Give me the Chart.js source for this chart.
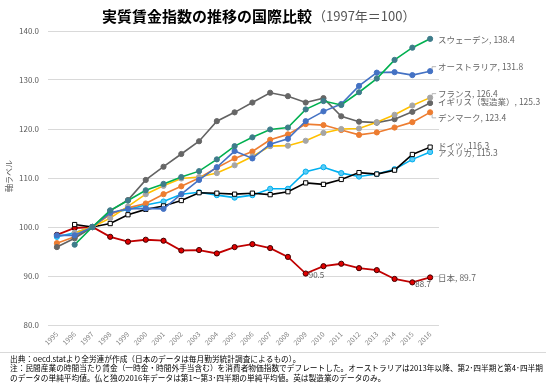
<!DOCTYPE html>
<html><head><meta charset="utf-8">
<script src="https://cdn.jsdelivr.net/npm/chart.js@4"></script>
<style>html,body{margin:0;padding:0;background:#fff;}#wrap{position:relative;width:546px;height:386px;}</style>
</head><body><div id="wrap"><canvas id="c" width="546" height="386"></canvas></div>
<script>
const years = ['1995','1996','1997','1998','1999','2000','2001','2002','2003','2004','2005','2006','2007','2008','2009','2010','2011','2012','2013','2014','2015','2016'];
const yTicks = [80, 90, 100, 110, 120, 130, 140];
const japan     = [98.4, 99.8, 100, 98.0, 97.0, 97.4, 97.2, 95.2, 95.3, 94.6, 95.9, 96.5, 95.7, 93.9, 90.5, 92.0, 92.5, 91.6, 91.2, 89.4, 88.7, 89.7];
const sweden    = [null, 96.4, 100, 103.4, 105.4, 107.5, 108.8, 110.2, 111.4, 113.8, 116.5, 118.3, 119.9, 120.3, 124.0, 125.7, 124.9, 127.5, 130.3, 134.1, 136.6, 138.4];
const australia = [98.3, 98.3, 100, 102.9, 103.7, 103.8, 103.7, 106.7, 109.6, 112.2, 115.5, 114.0, 116.9, 118.0, 121.6, 123.6, 125.1, 128.8, 131.5, 131.6, 131.0, 131.8];
const france    = [null, 98.8, 100, 101.8, 104.2, 106.7, 108.4, 109.9, 110.2, 111.0, 112.6, 114.4, 116.5, 116.6, 117.6, 119.2, 120.0, 120.1, 121.4, 122.9, 124.8, 126.4];
const uk        = [95.9, 97.7, 100, 103.3, 105.5, 109.6, 112.3, 114.9, 117.5, 121.6, 123.4, 125.4, 127.4, 126.7, 125.4, 126.3, 122.6, 121.5, 121.3, 122.0, 123.5, 125.3];
const denmark   = [96.7, 98.0, 100, 102.6, 103.9, 104.8, 106.7, 108.3, 110.0, 112.1, 114.0, 115.4, 117.8, 118.9, 121.0, 120.8, 119.8, 118.8, 119.3, 120.3, 121.4, 123.4];
const germany   = [null, 100.5, 100, 100.7, 102.5, 103.6, 104.3, 105.4, 107.0, 106.9, 106.7, 106.9, 106.6, 107.2, 109.0, 108.7, 109.7, 111.1, 110.8, 111.6, 114.8, 116.3];
const usa       = [98.0, 98.8, 100, 102.8, 103.6, 104.5, 105.2, 106.7, 107.1, 106.5, 106.0, 106.5, 107.8, 107.8, 111.3, 112.2, 111.0, 110.3, 110.8, 111.8, 113.8, 115.3];
const seriesNames = ['スウェーデン','オーストラリア','フランス','イギリス（製造業）','デンマーク','ドイツ','アメリカ','日本'];
const extraLabels = [{year:'2009', text:'90.5'}, {year:'2015', text:'88.7'}];
const titleMain = '実質賃金指数の推移の国際比較';
const titleSub = '（1997年＝100）';
const yAxisTitle = '軸ラベル';
const notes = [
  '出典：oecd.statより全労連が作成（日本のデータは毎月勤労統計調査によるもの）。',
  '注：民間産業の時間当たり賃金（一時金・時間外手当含む）を消費者物価指数でデフレートした。オーストラリアは2013年以降、第2･四半期と第4･四半期',
  'のデータの単純平均値。仏と独の2016年データは第1～第3･四半期の単純平均値。英は製造業のデータのみ。'
];

const JP = '"Noto Sans CJK JP", "Noto Sans", sans-serif';
function ds(label, data, line, marker, extra) {
  return Object.assign({label, data, borderColor: line, backgroundColor: marker, pointBackgroundColor: marker,
    pointBorderColor: marker, pointRadius: 2.6, pointBorderWidth: 1, borderWidth: 1.6, tension: 0, spanGaps: false}, extra || {});
}
const datasets = [
  ds(seriesNames[0], sweden, '#00B050', '#3E7C8A'),
  ds(seriesNames[1], australia, '#4472C4', '#4472C4'),
  ds(seriesNames[2], france, '#FFC000', '#A5A5A5'),
  ds(seriesNames[3], uk, '#636363', '#666666'),
  ds(seriesNames[4], denmark, '#ED7D31', '#ED7D31'),
  ds(seriesNames[5], germany, '#000000', '#FFFFFF', {pointStyle:'rect', pointRadius: 3, pointBorderColor:'#000000', pointBorderWidth: 1}),
  ds(seriesNames[6], usa, '#00B0F0', '#5CCBF5', {pointBorderColor:'#00B0F0'}),
  ds(seriesNames[7], japan, '#C00000', '#E00000', {pointBorderColor:'#400000', borderWidth: 1.8}),
];
// label vertical offsets relative to end point (style only)
const endOffsets = [0.5, -4.5, -4, -1.5, 5.5, -1, 0.5, 0];

const decor = {
  id: 'decor',
  afterDraw(chart) {
    const ctx = chart.ctx;
    ctx.save();
    // title
    ctx.textBaseline = 'middle';
    ctx.font = 'bold 15px ' + JP;
    const w1 = ctx.measureText(titleMain).width;
    ctx.font = '13px ' + JP;
    const w2 = ctx.measureText(titleSub).width;
    const x0 = 102;
    ctx.textAlign = 'left';
    ctx.fillStyle = '#000';
    ctx.font = 'bold 15px ' + JP;
    ctx.fillText(titleMain, x0, 16);
    ctx.fillStyle = '#555';
    ctx.font = '13px ' + JP;
    ctx.fillText(titleSub, x0 + w1 + 1, 16);
    // y axis title
    ctx.save();
    ctx.translate(9, 176);
    ctx.rotate(-Math.PI / 2);
    ctx.textAlign = 'center';
    ctx.fillStyle = '#595959';
    ctx.font = '8px ' + JP;
    ctx.fillText(yAxisTitle, 0, 0);
    ctx.restore();
    // end labels
    ctx.font = '8.5px ' + JP;
    ctx.fillStyle = '#666';
    ctx.textAlign = 'left';
    chart.data.datasets.forEach((d, i) => {
      const meta = chart.getDatasetMeta(i);
      const last = d.data.length - 1;
      const p = meta.data[last];
      const txt = d.label + ', ' + d.data[last].toFixed(1);
      ctx.fillText(txt, p.x + 8, p.y + endOffsets[i]);
    });
    // leader brackets
    ctx.strokeStyle = '#A6A6A6';
    ctx.lineWidth = 0.8;
    const br = (i, up) => {
      const p = chart.getDatasetMeta(i).data[years.length - 1];
      const ly = p.y + endOffsets[i];
      ctx.beginPath();
      ctx.moveTo(p.x + 2, p.y + (up ? -2 : 2));
      ctx.lineTo(p.x + 2, ly);
      ctx.lineTo(p.x + 6, ly);
      ctx.stroke();
    };
    br(1, true); br(2, true); br(4, false);
    // extra Japan labels
    const jm = chart.getDatasetMeta(7);
    ctx.fillStyle = '#595959';
    ctx.font = '8px ' + JP;
    extraLabels.forEach(e => {
      const p = jm.data[years.indexOf(e.year)];
      ctx.fillText(e.text, p.x + 3, p.y + 1.5);
    });
    // bottom rule
    ctx.strokeStyle = '#D9D9D9';
    ctx.lineWidth = 1;
    ctx.beginPath(); ctx.moveTo(0, 352.5); ctx.lineTo(546, 352.5); ctx.stroke();
    // notes
    ctx.fillStyle = '#000';
    ctx.font = '7.7px ' + JP;
    notes.forEach((n, k) => ctx.fillText(n, 10, 359 + k * 9.5));
    ctx.restore();
  }
};

new Chart(document.getElementById('c'), {
  type: 'line',
  data: { labels: years, datasets },
  options: {
    responsive: false, animation: false, devicePixelRatio: 1,
    layout: { padding: { left: 0, right: 107, top: 31, bottom: 31 } },
    plugins: { legend: { display: false }, tooltip: { enabled: false }, title: { display: false } },
    scales: {
      x: {
        offset: true,
        grid: { display: false, drawTicks: false },
        border: { display: false },
        ticks: { color: '#7F7F7F', font: { size: 7, family: JP }, minRotation: 45, maxRotation: 45, padding: 5, autoSkip: false },
        afterFit(s) { s.height = 30; }
      },
      y: {
        min: 80, max: 140,
        afterBuildTicks(s) { s.ticks = yTicks.map(v => ({ value: v })); },
        grid: { color: '#D9D9D9', lineWidth: 1, drawTicks: false },
        border: { display: false },
        ticks: { color: '#595959', font: { size: 8, family: JP }, padding: 9, callback: v => Number(v).toFixed(1) },
        afterFit(s) { s.width = 48; }
      }
    }
  },
  plugins: [decor]
});
</script></body></html>
